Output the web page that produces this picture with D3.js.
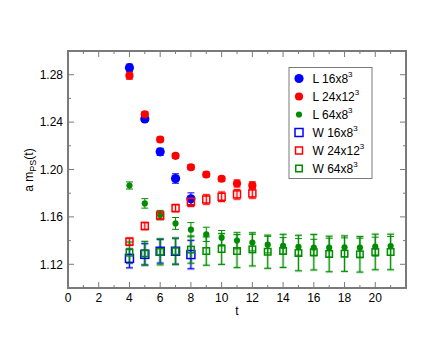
<!DOCTYPE html>
<html><head><meta charset="utf-8">
<script src="https://cdn.jsdelivr.net/npm/d3@7"></script>
<style>body{margin:0;background:#fff}text{font-family:"Liberation Sans",Arial,sans-serif}</style>
</head><body><svg id="c" width="440" height="340"></svg>
<script>
const tSmall = [4,5,6,7,8];
const tMid = [4,5,6,7,8,9,10,11,12];
const tLong = [4,5,6,7,8,9,10,11,12,13,14,15,16,17,18,19,20,21];
const L16 = [1.2859, 1.2427, 1.2149, 1.1924, 1.1753];
const L16err = [0.003, 0.002, 0.003, 0.004, 0.005];
const L24 = [1.2792, 1.2466, 1.2253, 1.2115, 1.2019, 1.1958, 1.1922, 1.1882, 1.1866];
const L24err = [0.003,0.002,0.002,0.002,0.002,0.002,0.002,0.003,0.003];
const L64 = [1.1865, 1.1714, 1.1615, 1.1545, 1.1492, 1.1453, 1.1425, 1.1400, 1.1383, 1.1366, 1.1355, 1.1347, 1.1341, 1.1340, 1.1343, 1.1340, 1.1349, 1.1354];
const L64err = [0.003,0.004,0.004,0.005,0.006,0.006,0.006,0.007,0.007,0.007,0.007,0.007,0.007,0.008,0.008,0.008,0.008,0.008];
const W16 = [1.1250, 1.1284, 1.1310, 1.1310, 1.1282];
const W16err = [0.008,0.009,0.010,0.011,0.012];
const W24 = [1.1391, 1.1523, 1.1612, 1.1674, 1.1728, 1.1747, 1.1770, 1.1790, 1.1798];
const W24err = [0.003,0.003,0.003,0.003,0.004,0.004,0.004,0.004,0.004];
const W64 = [1.1298, 1.1293, 1.1305, 1.1310, 1.1324, 1.1312, 1.1329, 1.1312, 1.1326, 1.1306, 1.1313, 1.1295, 1.1302, 1.1287, 1.1290, 1.1284, 1.1304, 1.1304];
const W64err = [0.009,0.010,0.011,0.011,0.0115,0.012,0.013,0.014,0.014,0.014,0.014,0.015,0.015,0.015,0.015,0.015,0.015,0.015];
const xTicks = [0,2,4,6,8,10,12,14,16,18,20];
const yTicks = [1.12,1.16,1.20,1.24,1.28];
const legendLabels = [["L 16x8","3"],["L 24x12","3"],["L 64x8","3"],["W 16x8","3"],["W 24x12","3"],["W 64x8","3"]];

const BLUE="#0000ff", RED="#ff0000", GREEN="#008c00";
const series = [
  {t:tSmall, v:L16, e:L16err, c:BLUE, shape:"circle", s:4.6},
  {t:tMid, v:L24, e:L24err, c:RED, shape:"circle", s:4.1},
  {t:tLong, v:L64, e:L64err, c:GREEN, shape:"circle", s:3.1},
  {t:tSmall, v:W16, e:W16err, c:BLUE, shape:"square", s:8},
  {t:tMid, v:W24, e:W24err, c:RED, shape:"square", s:7},
  {t:tLong, v:W64, e:W64err, c:GREEN, shape:"square", s:6.5}
];

const svg = d3.select("#c");
const L=68, R=406, T=51, B=288;
const x = d3.scaleLinear().domain([0,22]).range([L,R]);
const y = d3.scaleLinear().domain([1.10,1.30]).range([B,T]);
const axisColor="#7a7a7a";

const g = svg.append("g");
const xMinor = d3.range(0,23,1), yMinor = d3.range(0,11).map(i=>+(1.10+i*0.02).toFixed(2));
xMinor.forEach(v=>{
  const maj = v%2===0, len = maj?6:3;
  g.append("line").attr("x1",x(v)).attr("x2",x(v)).attr("y1",B).attr("y2",B-len).attr("stroke",axisColor).attr("stroke-width",1);
  g.append("line").attr("x1",x(v)).attr("x2",x(v)).attr("y1",T).attr("y2",T+len).attr("stroke",axisColor).attr("stroke-width",1);
});
yMinor.forEach(v=>{
  const maj = Math.round((v-1.08)*100)%4===0, len = maj?6:3;
  g.append("line").attr("y1",y(v)).attr("y2",y(v)).attr("x1",L).attr("x2",L+len).attr("stroke",axisColor).attr("stroke-width",1);
  g.append("line").attr("y1",y(v)).attr("y2",y(v)).attr("x1",R).attr("x2",R-len).attr("stroke",axisColor).attr("stroke-width",1);
});
svg.append("rect").attr("x",L).attr("y",T).attr("width",R-L).attr("height",B-T).attr("fill","none").attr("stroke",axisColor).attr("stroke-width",2);

xTicks.forEach(v=>svg.append("text").attr("x",x(v)).attr("y",302).attr("text-anchor","middle").attr("font-size",12).text(v));
yTicks.forEach(v=>svg.append("text").attr("x",63).attr("y",y(v)+4.3).attr("text-anchor","end").attr("font-size",12).text(v.toFixed(2)));

svg.append("text").attr("x",x(11)).attr("y",315).attr("text-anchor","middle").attr("font-size",12).text("t");
const yl = svg.append("text").attr("transform","translate(33,170) rotate(-90)").attr("text-anchor","middle").attr("font-size",12);
yl.append("tspan").text("a m");
yl.append("tspan").attr("font-size",9).attr("dy",3).text("PS");
yl.append("tspan").attr("dy",-3).text("(t)");

series.forEach(s=>{
  const eg = svg.append("g");
  s.t.forEach((t,i)=>{
    const cx=x(t), y1=y(s.v[i]+s.e[i]), y2=y(s.v[i]-s.e[i]);
    if(s.shape==="square"){
      [[cx,y1,cx,y2],[cx-3.5,y1,cx+3.5,y1],[cx-3.5,y2,cx+3.5,y2]].forEach(a=>
        eg.append("line").attr("x1",a[0]).attr("y1",a[1]).attr("x2",a[2]).attr("y2",a[3]).attr("stroke",s.c).attr("stroke-opacity",0.22).attr("stroke-width",3));
    }
    [[cx,y1,cx,y2],[cx-3.5,y1,cx+3.5,y1],[cx-3.5,y2,cx+3.5,y2]].forEach(a=>
      eg.append("line").attr("x1",a[0]).attr("y1",a[1]).attr("x2",a[2]).attr("y2",a[3]).attr("stroke",s.c).attr("stroke-width",1));
  });
});
function marker(sel, s, cx, cy){
  if(s.shape==="circle") sel.append("circle").attr("cx",cx).attr("cy",cy).attr("r",s.s).attr("fill",s.c);
  else sel.append("rect").attr("x",cx-s.s/2).attr("y",cy-s.s/2).attr("width",s.s).attr("height",s.s).attr("fill","none").attr("stroke",s.c).attr("stroke-width",1.5);
}
series.forEach(s=>{
  const mg = svg.append("g");
  s.t.forEach((t,i)=>marker(mg,s,x(t),y(s.v[i])));
});

const lg = svg.append("g");
lg.append("rect").attr("x",289).attr("y",67.5).attr("width",83).attr("height",111).attr("fill","#fff").attr("stroke",axisColor).attr("stroke-width",1);
series.forEach((s,i)=>{
  const ly = 78.5 + i*18;
  marker(lg, s, 299, ly);
  const tx = lg.append("text").attr("x",312.5).attr("y",ly+4.5).attr("font-size",12);
  tx.append("tspan").text(legendLabels[i][0]);
  tx.append("tspan").attr("font-size",8).attr("dy",-6).text(legendLabels[i][1]);
});
</script></body></html>
